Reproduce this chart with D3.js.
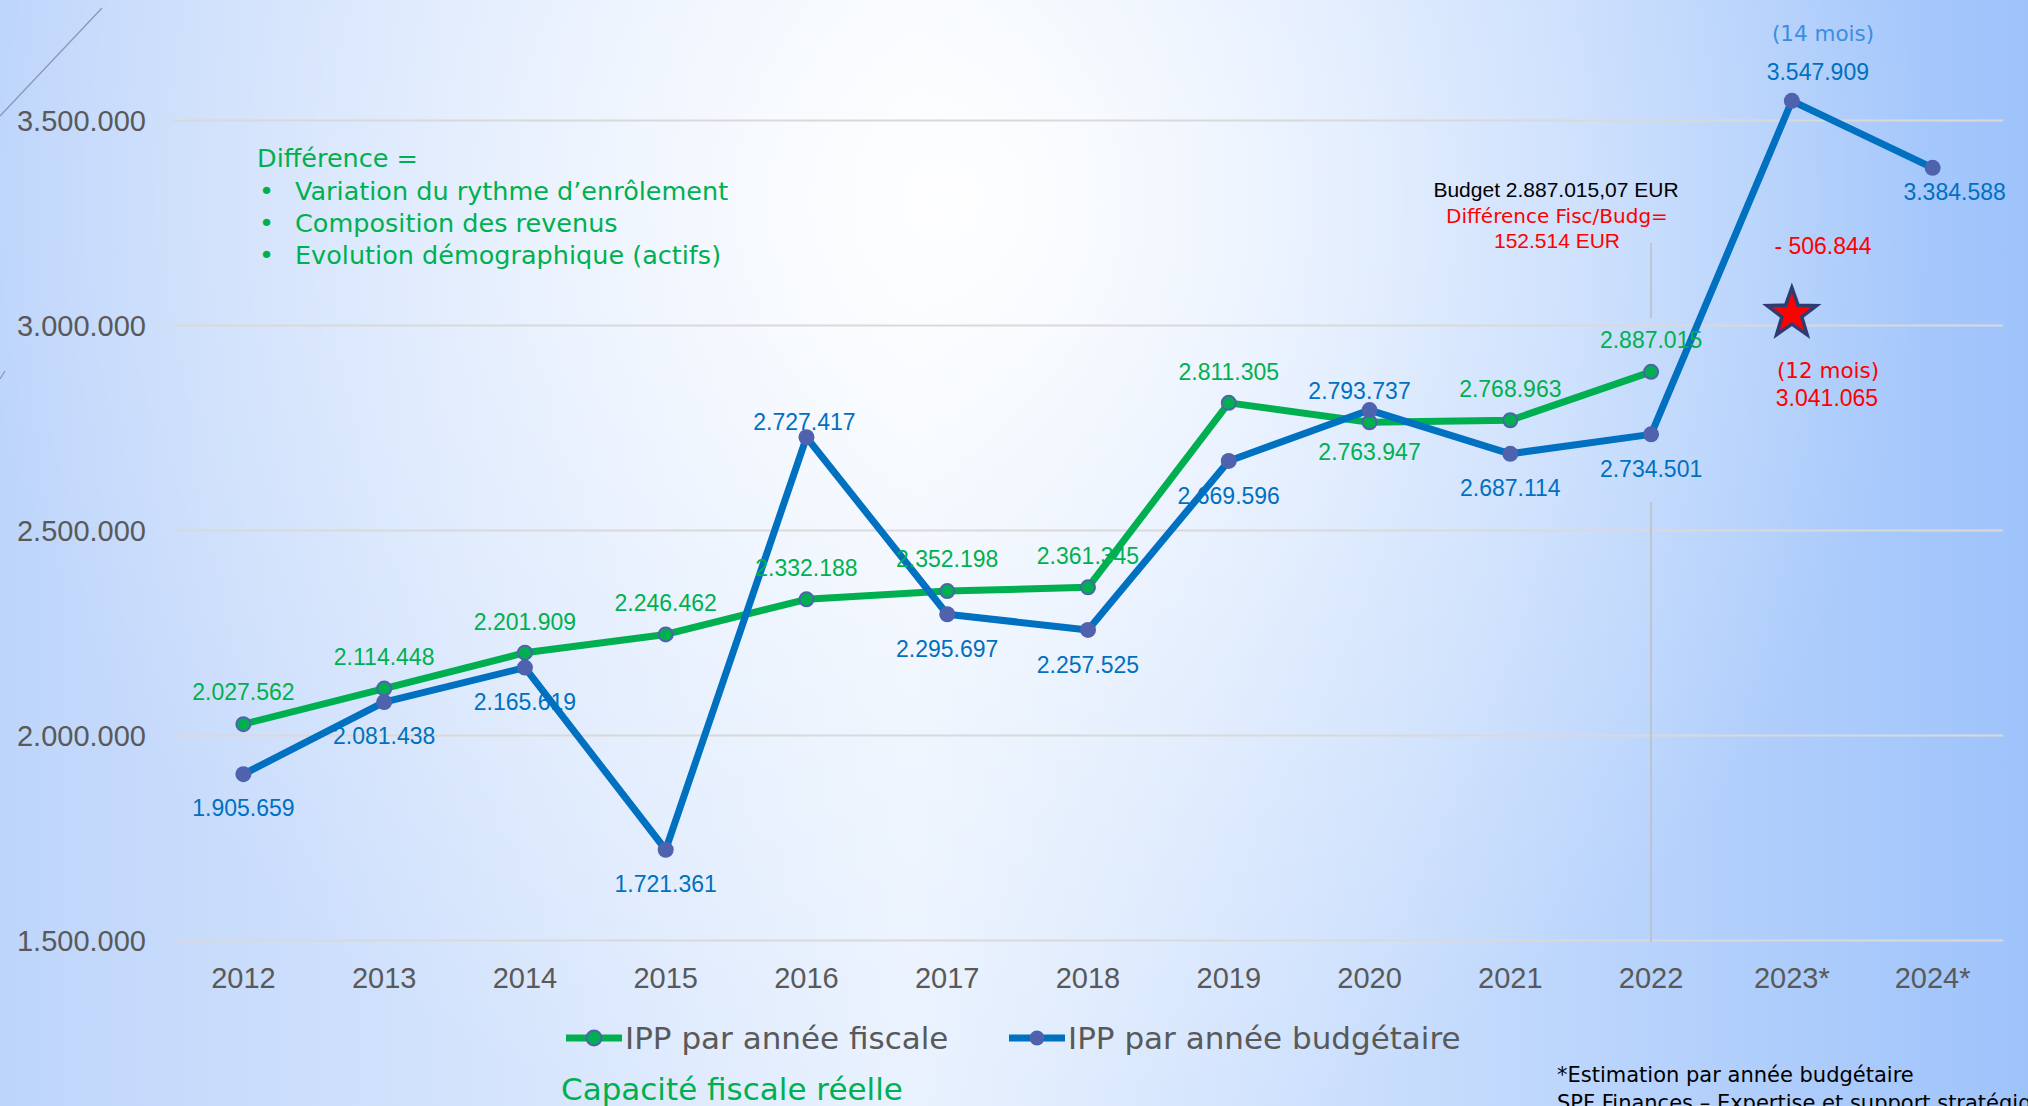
<!DOCTYPE html>
<html>
<head>
<meta charset="utf-8">
<script src="https://cdnjs.cloudflare.com/ajax/libs/d3/7.8.5/d3.min.js"></script>
<style>
  html, body { margin: 0; padding: 0; overflow: hidden; }
  svg { display: block; }
</style>
</head>
<body>
<div id="graph"></div>
<script>
var w = 2028, h = 1106

// data
var years = ['2012','2013','2014','2015','2016','2017','2018','2019','2020','2021','2022','2023*','2024*']
var fiscal = [2027562, 2114448, 2201909, 2246462, 2332188, 2352198, 2361345, 2811305, 2763947, 2768963, 2887015, null, null]
var budget = [1905659, 2081438, 2165619, 1721361, 2727417, 2295697, 2257525, 2669596, 2793737, 2687114, 2734501, 3547909, 3384588]
var yTicks = [1500000, 2000000, 2500000, 3000000, 3500000]
var estimate2023 = 3041065
var diff2023 = -506844

// label placement (px offsets of label centre from the point)
var fiscalDy = [-32, -32, -31, -32, -32, -32, -32, -31, 29, -32, -32, 0, 0]
var budgetDy = [34, 34, 34, 34, -16, 34, 35, 35, -19, 34, 34, -29, 24]
var budgetDx = [0, 0, 0, 0, -2, 0, 0, 0, -10, 0, 0, 26, 22]

var NUM = '"Liberation Sans", Arial, sans-serif'
var TXT = '"DejaVu Sans", sans-serif'
var green = '#00B050', blue = '#0070C0', marker = '#4F62AE', grey = '#595959', red = '#FF0000'

var loc = d3.formatLocale({decimal: ',', thousands: '.', grouping: [3], currency: ['', '']})
var fmt = loc.format(',d')

var svg = d3.select('#graph').append('svg')
    .attr('width', w).attr('height', h)

// background
var defs = svg.append('defs')
var lg = defs.append('linearGradient').attr('id', 'bg').attr('x1', 0).attr('x2', 1).attr('y1', 0).attr('y2', 0)
lg.append('stop').attr('offset', 0).attr('stop-color', '#bed5fb')
lg.append('stop').attr('offset', 0.45).attr('stop-color', '#e8f1fe')
lg.append('stop').attr('offset', 1).attr('stop-color', '#9ec3fb')
var rg = defs.append('radialGradient').attr('id', 'glow')
    .attr('gradientUnits', 'userSpaceOnUse').attr('cx', 950).attr('cy', 200).attr('r', 980)
rg.append('stop').attr('offset', 0).attr('stop-color', '#fff').attr('stop-opacity', 0.95)
rg.append('stop').attr('offset', 0.55).attr('stop-color', '#fff').attr('stop-opacity', 0.35)
rg.append('stop').attr('offset', 1).attr('stop-color', '#fff').attr('stop-opacity', 0)

svg.append('rect').attr('width', w).attr('height', h).attr('fill', 'url(#bg)')
svg.append('rect').attr('width', w).attr('height', h).attr('fill', 'url(#glow)')

// stray decoration lines from the slide
svg.append('line').attr('x1', 102).attr('y1', 8).attr('x2', 0).attr('y2', 116)
    .attr('stroke', '#8b97b8').attr('stroke-width', 1.3)
svg.append('line').attr('x1', 5).attr('y1', 371).attr('x2', 0).attr('y2', 379)
    .attr('stroke', '#8b97b8').attr('stroke-width', 1.3)

var x = d3.scaleBand().domain(years).range([173, 2003])
var y = d3.scaleLinear().domain([1500000, 3500000]).range([940.5, 120.5])
function cx(i){ return x(years[i]) + x.bandwidth() / 2 }

// gridlines + y labels
svg.append('g').selectAll('line').data(yTicks).join('line')
    .attr('x1', 173).attr('x2', 2003)
    .attr('y1', y).attr('y2', y)
    .attr('stroke', '#d9d9d9').attr('stroke-width', 2)

svg.append('g').selectAll('text').data(yTicks).join('text')
    .attr('x', 146).attr('y', function(d){ return y(d) + 10 })
    .attr('text-anchor', 'end')
    .style('font', '29px ' + NUM).style('fill', grey)
    .text(fmt)

// x labels
svg.append('g').selectAll('text').data(years).join('text')
    .attr('x', function(d, i){ return cx(i) }).attr('y', 988)
    .attr('text-anchor', 'middle')
    .style('font', '29px ' + NUM).style('fill', grey)
    .text(function(d){ return d })

// vertical guide at 2022
var x22 = cx(10)
svg.append('line').attr('x1', x22).attr('x2', x22).attr('y1', 243).attr('y2', 318)
    .attr('stroke', '#bfbfbf').attr('stroke-width', 1.6)
svg.append('line').attr('x1', x22).attr('x2', x22).attr('y1', 502).attr('y2', 942)
    .attr('stroke', '#bfbfbf').attr('stroke-width', 1.6)

// series
var line = d3.line()
    .defined(function(d){ return d != null })
    .x(function(d, i){ return cx(i) })
    .y(function(d){ return y(d) })

svg.append('path').datum(fiscal).attr('d', line)
    .attr('fill', 'none').attr('stroke', green).attr('stroke-width', 7)
    .attr('stroke-linejoin', 'round')
svg.append('g').selectAll('circle').data(fiscal).join('circle')
    .filter(function(d){ return d != null })
    .attr('cx', function(d){ return cx(fiscal.indexOf(d)) }).attr('cy', y)
    .attr('r', 7).attr('fill', green).attr('stroke', marker).attr('stroke-width', 2)

svg.append('path').datum(budget).attr('d', line)
    .attr('fill', 'none').attr('stroke', blue).attr('stroke-width', 7)
    .attr('stroke-linejoin', 'round')
svg.append('g').selectAll('circle').data(budget).join('circle')
    .attr('cx', function(d, i){ return cx(i) }).attr('cy', y)
    .attr('r', 8).attr('fill', marker)

// data labels
svg.append('g').selectAll('text').data(fiscal).join('text')
    .filter(function(d){ return d != null })
    .attr('x', function(d){ return cx(fiscal.indexOf(d)) })
    .attr('y', function(d){ var i = fiscal.indexOf(d); return y(d) + fiscalDy[i] + 8.3 })
    .attr('text-anchor', 'middle')
    .style('font', '23px ' + NUM).style('fill', green)
    .text(fmt)

svg.append('g').selectAll('text').data(budget).join('text')
    .attr('x', function(d, i){ return cx(i) + budgetDx[i] })
    .attr('y', function(d, i){ return y(d) + budgetDy[i] + 8.3 })
    .attr('text-anchor', 'middle')
    .style('font', '23px ' + NUM).style('fill', blue)
    .text(fmt)

// 2023 estimate star
var sx = cx(11), sy = y(estimate2023) + 5
var star = d3.range(10).map(function(k){
  var r = k % 2 ? 10.5 : 26, a = -Math.PI / 2 + k * Math.PI / 5
  return [sx + r * Math.cos(a), sy + r * Math.sin(a)]
})
svg.append('path').attr('d', 'M' + star.join('L') + 'Z')
    .attr('fill', red).attr('stroke', '#2F3C72').attr('stroke-width', 3.5).attr('stroke-linejoin', 'miter')

svg.append('text').attr('x', 1823).attr('y', 41).attr('text-anchor', 'middle')
    .style('font', '21.5px ' + TXT).style('fill', '#3B8EE0').text('(14 mois)')
svg.append('text').attr('x', 1823).attr('y', 254).attr('text-anchor', 'middle')
    .style('font', '23px ' + NUM).style('fill', red).text('- ' + fmt(-diff2023))
svg.append('text').attr('x', 1828).attr('y', 378).attr('text-anchor', 'middle')
    .style('font', '21.5px ' + TXT).style('fill', red).text('(12 mois)')
svg.append('text').attr('x', 1827).attr('y', 406).attr('text-anchor', 'middle')
    .style('font', '23px ' + NUM).style('fill', red).text(fmt(estimate2023))

// budget note
svg.append('text').attr('x', 1556).attr('y', 197).attr('text-anchor', 'middle')
    .style('font', '21px ' + NUM).style('fill', '#000').text('Budget 2.887.015,07 EUR')
svg.append('text').attr('x', 1557).attr('y', 223).attr('text-anchor', 'middle')
    .style('font', '20px ' + TXT).style('fill', red).text('Différence Fisc/Budg=')
svg.append('text').attr('x', 1557).attr('y', 248).attr('text-anchor', 'middle')
    .style('font', '21px ' + NUM).style('fill', red).text('152.514 EUR')

// green explanation block
var note = svg.append('g').style('font', '25.5px ' + TXT).style('fill', green)
note.append('text').attr('x', 257).attr('y', 167).text('Différence =')
var bullets = ['Variation du rythme d’enrôlement', 'Composition des revenus', 'Evolution démographique (actifs)']
bullets.forEach(function(b, i){
  note.append('text').attr('x', 259).attr('y', 200 + i * 32).text('•')
  note.append('text').attr('x', 295).attr('y', 200 + i * 32).text(b)
})

// legend
var leg = [
  {name: 'IPP par année fiscale', color: green, x: 566, stroke: marker, fill: green},
  {name: 'IPP par année budgétaire', color: blue, x: 1009, stroke: 'none', fill: marker}
]
leg.forEach(function(d){
  svg.append('line').attr('x1', d.x).attr('x2', d.x + 56).attr('y1', 1038).attr('y2', 1038)
      .attr('stroke', d.color).attr('stroke-width', 7)
  svg.append('circle').attr('cx', d.x + 28).attr('cy', 1038).attr('r', 7.5)
      .attr('fill', d.fill).attr('stroke', d.stroke).attr('stroke-width', 2)
  svg.append('text').attr('x', d.x + 59).attr('y', 1049)
      .style('font', '31px ' + TXT).style('fill', grey).text(d.name)
})

svg.append('text').attr('x', 561).attr('y', 1100)
    .style('font', '31px ' + TXT).style('fill', green).text('Capacité fiscale réelle')

// source notes (second line runs off the bottom edge, as in the slide)
svg.append('text').attr('x', 1557).attr('y', 1082)
    .style('font', '21px ' + TXT).style('fill', '#000').text('*Estimation par année budgétaire')
svg.append('text').attr('x', 1557).attr('y', 1110)
    .style('font', '21px ' + TXT).style('fill', '#000').text('SPF Finances – Expertise et support stratégique')
</script>
</body>
</html>
